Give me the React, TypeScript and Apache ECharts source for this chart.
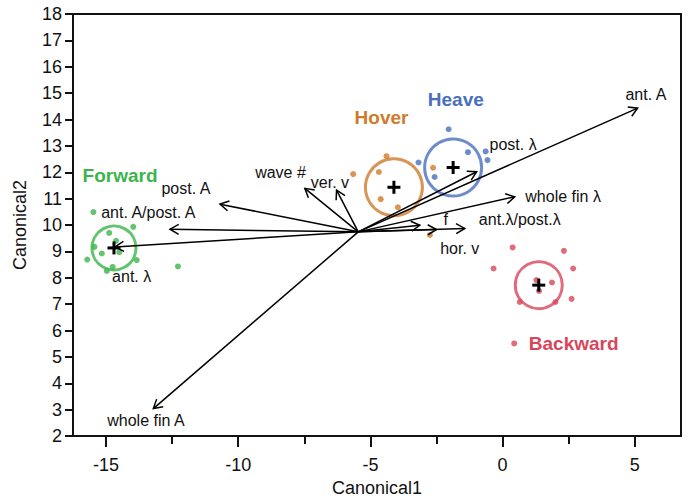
import React, { useEffect, useRef } from 'react';
import * as echarts from 'echarts';

const FONT = '"Liberation Sans", Arial, Helvetica, sans-serif';

// axis extents and tick values
const xMin = -16.25;
const xMax = 6.75;
const yMin = 2;
const yMax = 18;
const xMajorTicks = [-15, -10, -5, 0, 5];
const xMinorTicks = [-12.5, -7.5, -2.5, 2.5];

// observations per group
const forwardPoints = [
  [-15.48, 10.49], [-13.97, 9.93], [-14.88, 9.7], [-14.62, 9.4], [-15.44, 9.17], [-15.16, 8.92],
  [-14.5, 8.97], [-15.71, 8.69], [-13.84, 8.67], [-14.97, 8.26], [-14.75, 8.41], [-12.28, 8.43],
];
const hoverPoints = [
  [-5.65, 11.93], [-4.39, 12.61], [-4.68, 12.01], [-4.61, 10.98], [-3.96, 10.67], [-2.63, 12.17], [-2.75, 9.62],
];
const heavePoints = [
  [-2.04, 13.63], [-3.18, 12.37], [-1.31, 12.76], [-0.64, 12.79], [-0.57, 12.46], [-2.57, 11.82],
];
const backwardPoints = [
  [0.38, 9.15], [2.32, 9.02], [-0.34, 8.35], [2.67, 8.35], [1.28, 7.91], [1.87, 7.82],
  [1.38, 7.5], [0.65, 7.08], [2.0, 7.08], [2.61, 7.2], [0.44, 5.51],
];

// groups
const groupNames = ['Forward', 'Hover', 'Heave', 'Backward'];
const groupCentroids = [[-14.7, 9.13], [-4.11, 11.43], [-1.87, 12.18], [1.37, 7.72]];
const groupLabelPos = [[-14.47, 11.89], [-4.58, 14.08], [-1.77, 14.76], [2.69, 5.51]];
const groupColors = ['#3cb54b', '#d07a2c', '#4a6fbe', '#d8465b'];
const groupCircleSize = [44, 57, 57, 47];

// structure vectors
const vectorOrigin = [-5.46, 9.74];
const vectorNames = [
  'ant. A', 'post. λ', 'whole fin λ', 'f', 'ant.λ/post.λ', 'hor. v',
  'post. A', 'ant. A/post. A', 'ant. λ', 'wave #', 'ver. v', 'whole fin A',
];
const vectorEnds = [
  [5.11, 14.43], [-0.98, 12.02], [0.46, 11.07], [-2.5, 9.83], [-1.43, 9.87], [-3.13, 9.99],
  [-10.69, 10.79], [-12.58, 9.84], [-14.66, 9.17], [-7.48, 11.39], [-6.28, 11.32], [-13.21, 3.04],
];
const vectorLabelPos = [
  [5.42, 14.93], [0.4, 13.06], [2.29, 11.07], [-2.15, 10.19], [0.65, 10.22], [-1.62, 9.11],
  [-11.98, 11.4], [-13.4, 10.49], [-14.03, 8.03], [-8.4, 11.98], [-6.53, 11.6], [-13.49, 2.57],
];

const pointSeries = [forwardPoints, hoverPoints, heavePoints, backwardPoints];

export default function App() {
  const ref = useRef<HTMLDivElement>(null);

  useEffect(() => {
    document.body.style.margin = '0';
    if (!ref.current) return;
    const chart = echarts.init(ref.current, null, { renderer: 'svg' });

    const textEl = (p: number[], text: string, font: string, fill: string) => ({
      type: 'text',
      x: p[0],
      y: p[1],
      style: {
        text,
        fill,
        font,
        align: 'center',
        verticalAlign: 'middle',
        textAlign: 'center',
        textVerticalAlign: 'middle',
      },
    });

    const option: any = {
      animation: false,
      backgroundColor: '#fff',
      grid: {
        left: 73,
        right: 8,
        top: 14,
        bottom: 62,
        containLabel: false,
        outerBoundsMode: 'none',
        show: true,
        borderColor: '#111',
        borderWidth: 2,
        backgroundColor: 'transparent',
      },
      xAxis: [
        {
          type: 'value',
          min: xMin,
          max: xMax,
          name: 'Canonical1',
          nameLocation: 'middle',
          nameGap: 43,
          nameTextStyle: { fontFamily: FONT, fontSize: 18, color: '#111' },
          axisLine: { show: true, onZero: false, lineStyle: { color: '#111', width: 2 } },
          axisTick: { show: true, length: 11, customValues: xMajorTicks, lineStyle: { color: '#111', width: 2 } },
          axisLabel: {
            customValues: xMajorTicks,
            fontFamily: FONT,
            fontSize: 18,
            color: '#111',
            margin: 20,
          },
          splitLine: { show: false },
        },
        {
          type: 'value',
          min: xMin,
          max: xMax,
          position: 'bottom',
          axisLine: { show: false, onZero: false },
          axisTick: { show: true, length: 8, customValues: xMinorTicks, lineStyle: { color: '#111', width: 2 } },
          axisLabel: { show: false },
          splitLine: { show: false },
        },
      ],
      yAxis: {
        type: 'value',
        min: yMin,
        max: yMax,
        interval: 1,
        name: 'Canonical2',
        nameLocation: 'middle',
        nameGap: 44,
        nameTextStyle: { fontFamily: FONT, fontSize: 18, color: '#111' },
        axisLine: { show: true, onZero: false, lineStyle: { color: '#111', width: 2 } },
        axisTick: { show: true, length: 8, lineStyle: { color: '#111', width: 2 } },
        axisLabel: { fontFamily: FONT, fontSize: 18, color: '#111', margin: 11 },
        splitLine: { show: false },
      },
      series: [
        {
          type: 'scatter',
          name: 'circles',
          symbol: 'circle',
          z: 2,
          data: groupCentroids.map((c, i) => ({
            value: c,
            symbolSize: groupCircleSize[i],
            itemStyle: { color: 'rgba(0,0,0,0)', borderColor: groupColors[i], borderWidth: 3 },
          })),
          emphasis: { disabled: true },
        },
        ...pointSeries.map((pts, i) => ({
          type: 'scatter',
          name: groupNames[i],
          symbol: 'circle',
          symbolSize: 6,
          z: 3,
          itemStyle: { color: groupColors[i] },
          data: pts,
          emphasis: { disabled: true },
        })),
        {
          type: 'custom',
          name: 'vectors',
          z: 4,
          encode: { x: 0, y: 1 },
          data: vectorEnds,
          renderItem: (params: any, api: any) => {
            const s = api.coord(vectorOrigin);
            const e = api.coord([api.value(0), api.value(1)]);
            const ang = Math.atan2(e[1] - s[1], e[0] - s[0]);
            const hl = 10;
            const ha = Math.PI / 6;
            const h1 = [e[0] - hl * Math.cos(ang - ha), e[1] - hl * Math.sin(ang - ha)];
            const h2 = [e[0] - hl * Math.cos(ang + ha), e[1] - hl * Math.sin(ang + ha)];
            return {
              type: 'group',
              children: [
                {
                  type: 'line',
                  shape: { x1: s[0], y1: s[1], x2: e[0], y2: e[1] },
                  style: { stroke: '#000', lineWidth: 1.5 },
                },
                {
                  type: 'polyline',
                  shape: { points: [h1, e, h2] },
                  style: { stroke: '#000', fill: null, lineWidth: 1.5 },
                },
              ],
            };
          },
        },
        {
          type: 'custom',
          name: 'centroids',
          z: 5,
          encode: { x: 0, y: 1 },
          data: groupCentroids,
          renderItem: (params: any, api: any) => {
            const c = api.coord([api.value(0), api.value(1)]);
            const L = 13;
            const T = 3;
            return {
              type: 'group',
              children: [
                { type: 'rect', shape: { x: c[0] - L / 2, y: c[1] - T / 2, width: L, height: T }, style: { fill: '#000' } },
                { type: 'rect', shape: { x: c[0] - T / 2, y: c[1] - L / 2, width: T, height: L }, style: { fill: '#000' } },
              ],
            };
          },
        },
        {
          type: 'custom',
          name: 'vectorLabels',
          z: 6,
          encode: { x: 0, y: 1 },
          data: vectorLabelPos,
          renderItem: (params: any, api: any) => {
            const p = api.coord([api.value(0), api.value(1)]);
            return textEl(p, vectorNames[params.dataIndex], `16px ${FONT}`, '#111');
          },
        },
        {
          type: 'custom',
          name: 'groupLabels',
          z: 6,
          encode: { x: 0, y: 1 },
          data: groupLabelPos,
          renderItem: (params: any, api: any) => {
            const p = api.coord([api.value(0), api.value(1)]);
            return textEl(p, groupNames[params.dataIndex], `bold 19px ${FONT}`, groupColors[params.dataIndex]);
          },
        },
      ],
    };

    chart.setOption(option);
    return () => chart.dispose();
  }, []);

  return <div ref={ref} style={{ width: 689, height: 498 }} />;
}
